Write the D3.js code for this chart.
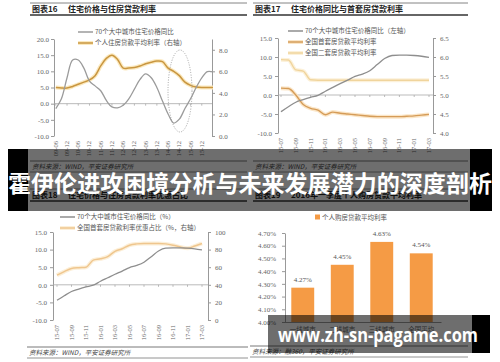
<!DOCTYPE html>
<html lang="zh">
<head>
<meta charset="UTF-8">
<title>住宅价格与住房贷款利率</title>
<script src="https://d3js.org/d3.v7.min.js"></script>
<style>
  body { margin: 0; background: #fff; }
  svg { display: block; }
</style>
</head>
<body>
<script>
// ---- data ----
// chart 16: half-step points between the x labels
const c16Labels = ["09-06","09-12","10-06","10-12","11-06","11-12","12-06","12-12","13-06","13-12","14-06","14-12","15-06","15-12"];
const c16Price = [-1.5, 1.5, 8, 13.5, 13.5, 11, 7, 5.5, 4, 1, -1, -1.3, -0.5, 1.5, 4.5, 7.5, 9.2, 8, 5, 0.8, -3.2, -6, -4.8, -1.5, 1.5, 5, 8, 9.9, 9.8];
const c16Rate = [4.5, 4.45, 4.45, 4.6, 4.8, 5.0, 5.2, 5.6, 6.5, 7.2, 7.5, 7.1, 6.3, 6.3, 6.35, 6.5, 6.7, 6.85, 6.95, 6.9, 6.3, 6.0, 5.6, 5.0, 4.7, 4.55, 4.5, 4.5, 4.5];

// charts 17 / 18: monthly 15-07 .. 17-03
const months = ["15-07","15-08","15-09","15-10","15-11","15-12","16-01","16-02","16-03","16-04","16-05","16-06","16-07","16-08","16-09","16-10","16-11","16-12","17-01","17-02","17-03"];
const priceYoY = [-4.4, -3.1, -1.9, -1.2, -0.6, -0.1, 1.0, 2.0, 3.0, 3.9, 4.9, 5.5, 6.4, 8.0, 9.6, 10.4, 10.5, 10.5, 10.4, 10.2, 9.9];
const firstRate = [5.18, 5.17, 5.0, 4.75, 4.65, 4.6, 4.48, 4.55, 4.52, 4.5, 4.48, 4.46, 4.44, 4.43, 4.43, 4.43, 4.43, 4.44, 4.45, 4.47, 4.49];
const secondRate = [5.93, 5.92, 5.66, 5.63, 5.4, 5.39, 5.39, 5.39, 5.39, 5.39, 5.39, 5.39, 5.39, 5.39, 5.39, 5.39, 5.39, 5.39, 5.39, 5.39, 5.39];
const discountShare = [51, 55, 58.5, 59.5, 60, 68, 69.5, 72, 78, 81, 85, 86.5, 87, 87, 87, 86.5, 85, 83, 81.5, 84, 87];

// chart 19
const cities = ["一线城市","二线城市","三线城市","全国平均"];
const cityRates = [4.27, 4.45, 4.63, 4.54];

const CJK = "'Noto Sans CJK SC', sans-serif";
const NUM = "'Liberation Serif', serif";
const GRAY = "#9b9b9b";

const svg = d3.select("body").append("svg")
    .attr("width", 500)
    .attr("height", 362);

function styleAxis(g) {
    g.attr("font-family", NUM).attr("font-size", 7);
    g.selectAll("path, line").attr("stroke", "#999");
    g.selectAll("text").attr("fill", "#666");
}

function header(x0, x1, y, num, title) {
    svg.append("line").attr("x1", x0).attr("x2", x1).attr("y1", y - 8).attr("y2", y - 8)
        .attr("stroke", "#666").attr("stroke-width", 0.8);
    svg.append("line").attr("x1", x0).attr("x2", x1).attr("y1", y + 4).attr("y2", y + 4)
        .attr("stroke", "#333").attr("stroke-width", 1.4);
    svg.append("text").attr("x", x0 + 2).attr("y", y + 1).text(num)
        .attr("font-family", CJK).attr("font-weight", 700).attr("font-size", 8).attr("fill", "#222");
    svg.append("text").attr("x", x0 + 38).attr("y", y + 1).text(title)
        .attr("font-family", CJK).attr("font-weight", 700).attr("font-size", 8).attr("fill", "#222");
}

function footer(x0, x1, y, text) {
    svg.append("line").attr("x1", x0).attr("x2", x1).attr("y1", y - 7).attr("y2", y - 7)
        .attr("stroke", "#555").attr("stroke-width", 0.8);
    svg.append("line").attr("x1", x0).attr("x2", x1).attr("y1", y + 4).attr("y2", y + 4)
        .attr("stroke", "#777").attr("stroke-width", 0.8);
    svg.append("text").attr("x", x0 + 2).attr("y", y + 1).text(text)
        .attr("font-family", CJK).attr("font-style", "italic").attr("font-size", 6.5).attr("fill", "#444");
}

function legendLine(x, y, color, text, halo) {
    if (halo) {
        svg.append("line").attr("x1", x).attr("x2", x + 15).attr("y1", y).attr("y2", y)
            .attr("stroke", halo).attr("stroke-width", 4);
    }
    svg.append("line").attr("x1", x).attr("x2", x + 15).attr("y1", y).attr("y2", y)
        .attr("stroke", color).attr("stroke-width", 1.5);
    svg.append("text").attr("x", x + 17).attr("y", y + 2.3).text(text)
        .attr("font-family", CJK).attr("font-size", 6.5).attr("fill", "#555");
}

function drawLine(data, x, y, color, width, curve, halo) {
    const line = d3.line().x((d, i) => x(i)).y(d => y(d)).curve(curve);
    if (halo) {
        svg.append("path").datum(data).attr("d", line).attr("fill", "none")
            .attr("stroke", halo).attr("stroke-width", 4).attr("stroke-linejoin", "round");
    }
    svg.append("path").datum(data).attr("d", line).attr("fill", "none")
        .attr("stroke", color).attr("stroke-width", width).attr("stroke-linejoin", "round");
}

function xLabels(labels, x, y, step) {
    labels.forEach((lab, i) => {
        svg.append("text")
            .attr("transform", `translate(${x(i * step) + 2},${y}) rotate(-90)`)
            .attr("text-anchor", "end")
            .attr("font-family", NUM).attr("font-size", 6.5).attr("fill", "#666")
            .text(lab);
    });
}

function zeroLine(x0, x1, y0, x, positions) {
    svg.append("line").attr("x1", x0).attr("x2", x1).attr("y1", y0).attr("y2", y0)
        .attr("stroke", "#aaa").attr("stroke-width", 0.8);
    positions.forEach(p => {
        svg.append("line").attr("x1", x(p)).attr("x2", x(p)).attr("y1", y0).attr("y2", y0 + 2)
            .attr("stroke", "#aaa").attr("stroke-width", 0.8);
    });
}

const fmt1 = d => d.toFixed(1);

// ================= chart 16 =================
(function () {
    header(30, 247, 11, "图表16", "住宅价格与住房贷款利率");
    const x = d3.scaleLinear().domain([-0.5, 28]).range([53, 213]);
    const yL = d3.scaleLinear().domain([-10, 20]).range([136, 39]);
    const yR = d3.scaleLinear().domain([0, 9]).range([136, 39]);

    svg.append("g").attr("transform", "translate(54,0)")
        .call(d3.axisLeft(yL).tickValues([-10, -5, 0, 5, 10, 15, 20]).tickFormat(fmt1).tickSize(3).tickSizeOuter(0).tickPadding(2))
        .call(styleAxis);
    svg.append("g").attr("transform", "translate(212,0)")
        .call(d3.axisRight(yR).tickValues([0, 2, 4, 6, 8]).tickFormat(fmt1).tickSize(3).tickSizeOuter(0).tickPadding(4))
        .call(styleAxis);

    zeroLine(54, 212, yL(0), x, d3.range(0, 28, 2));
    xLabels(c16Labels, x, 141, 2);

    drawLine(c16Rate, x, yR, "#c99640", 1.5, d3.curveCatmullRom, "#fbe9bf");
    drawLine(c16Price, x, yL, GRAY, 1.3, d3.curveCatmullRom);

    // dotted highlight
    svg.append("ellipse").attr("cx", 180).attr("cy", 91).attr("rx", 12).attr("ry", 41)
        .attr("fill", "none").attr("stroke", "#999").attr("stroke-width", 0.9)
        .attr("stroke-dasharray", "1,1.5");

    legendLine(78, 32, GRAY, "70个大中城市住宅价格同比");
    legendLine(78, 43, "#c99640", "个人住房贷款平均利率（右轴）", "#fbe9bf");
    footer(30, 247, 168, "资料来源：WIND，平安证券研究所");
})();

// ================= chart 17 =================
(function () {
    header(253, 468, 11, "图表17", "住宅价格同比与首套房贷款利率");
    const x = d3.scaleLinear().domain([0, 20]).range([281, 429]);
    const yL = d3.scaleLinear().domain([-10, 15]).range([133, 38]);
    const yR = d3.scaleLinear().domain([4, 6.5]).range([133, 38]);

    svg.append("g").attr("transform", "translate(278,0)")
        .call(d3.axisLeft(yL).tickValues([-10, -5, 0, 5, 10, 15]).tickFormat(fmt1).tickSize(3).tickSizeOuter(0).tickPadding(3))
        .call(styleAxis);
    svg.append("g").attr("transform", "translate(433,0)")
        .call(d3.axisRight(yR).tickValues([4, 4.5, 5, 5.5, 6, 6.5]).tickFormat(fmt1).tickSize(3).tickSizeOuter(0).tickPadding(4))
        .call(styleAxis);

    zeroLine(278, 433, yL(0), x, d3.range(0, 21, 2));
    xLabels(months.filter((m, i) => i % 2 === 0), x, 138, 2);

    drawLine(secondRate, x, yR, "#f0d49c", 1.4, d3.curveMonotoneX, "#fcf1da");
    drawLine(firstRate, x, yR, "#d59c58", 1.4, d3.curveMonotoneX, "#fbe6c8");
    drawLine(priceYoY, x, yL, "#8e8e8e", 1.3, d3.curveMonotoneX);

    legendLine(288, 31, "#8e8e8e", "70个大中城市住宅价格同比（左轴）");
    legendLine(288, 42, "#d59c58", "全国首套房贷款平均利率", "#fbe6c8");
    legendLine(288, 53, "#f0d49c", "全国二套房贷款平均利率", "#fcf1da");
    footer(253, 468, 168, "资料来源：WIND，平安证券研究所");
})();

// ================= chart 18 =================
(function () {
    header(30, 247, 197, "图表18", "住宅价格与住房贷款利率优惠占比");
    const x = d3.scaleLinear().domain([0, 20]).range([57, 202]);
    const yL = d3.scaleLinear().domain([-10, 15]).range([320, 232]);
    const yR = d3.scaleLinear().domain([0, 100]).range([320, 232]);

    svg.append("g").attr("transform", "translate(53,0)")
        .call(d3.axisLeft(yL).tickValues([-10, -5, 0, 5, 10, 15]).tickFormat(fmt1).tickSize(3).tickSizeOuter(0).tickPadding(3))
        .call(styleAxis);
    svg.append("g").attr("transform", "translate(208,0)")
        .call(d3.axisRight(yR).tickValues([0, 20, 40, 60, 80, 100]).tickSize(3).tickSizeOuter(0).tickPadding(4))
        .call(styleAxis);

    zeroLine(53, 208, yL(0), x, d3.range(0, 21, 2));
    xLabels(months.filter((m, i) => i % 2 === 0), x, 325, 2);

    drawLine(discountShare, x, yR, "#efc68e", 1.5, d3.curveMonotoneX, "#fcefd8");
    drawLine(priceYoY, x, yL, "#8e8e8e", 1.3, d3.curveMonotoneX);

    legendLine(60, 217, "#8e8e8e", "70个大中城市住宅价格同比（%）");
    legendLine(60, 228, "#efc68e", "全国首套房贷款利率优惠占比（%，右轴）", "#fcefd8");
    footer(27, 248, 354, "资料来源：WIND，平安证券研究所");
})();

// ================= chart 19 =================
(function () {
    header(253, 468, 197, "图表19", "2016年一季度个人购房贷款平均利率");
    const x = d3.scaleBand().domain(cities).range([283, 441]).paddingInner(0.42).paddingOuter(0.21);
    const y = d3.scaleLinear().domain([4.0, 4.7]).range([322, 233]);

    svg.append("g").attr("transform", "translate(285,0)")
        .call(d3.axisLeft(y).tickValues(d3.range(0, 8).map(i => 4 + i * 0.1)).tickFormat(d => d.toFixed(2) + "%").tickSize(3).tickSizeOuter(0).tickPadding(6))
        .call(styleAxis);
    svg.append("g").attr("transform", "translate(0,322)")
        .call(d3.axisBottom(x).tickSize(0).tickPadding(5))
        .call(styleAxis)
        .attr("font-family", CJK).attr("font-size", 6.5);

    svg.selectAll(".bar19").data(cityRates).enter().append("rect")
        .attr("class", "bar19")
        .attr("x", (d, i) => x(cities[i]))
        .attr("width", x.bandwidth())
        .attr("y", d => y(d))
        .attr("height", d => y(4.0) - y(d))
        .attr("fill", "#f59b45");
    svg.selectAll(".val19").data(cityRates).enter().append("text")
        .attr("class", "val19")
        .attr("x", (d, i) => x(cities[i]) + x.bandwidth() / 2)
        .attr("y", d => y(d) - 6)
        .attr("text-anchor", "middle")
        .attr("font-family", NUM).attr("font-size", 7).attr("fill", "#555")
        .text(d => d.toFixed(2) + "%");

    svg.append("rect").attr("x", 315).attr("y", 214.5).attr("width", 5).attr("height", 5).attr("fill", "#f59b45");
    svg.append("text").attr("x", 322).attr("y", 219.5).text("个人购房贷款平均利率")
        .attr("font-family", CJK).attr("font-size", 6.5).attr("fill", "#555");
    footer(250, 468, 353, "资料来源：融360，平安证券研究所");
})();

// ================= overlays =================
svg.append("rect").attr("x", 28).attr("y", 149).attr("width", 442).attr("height", 62).attr("fill", "rgba(0,0,0,0.57)");
svg.append("rect").attr("x", 8).attr("y", 149).attr("width", 20).attr("height", 62).attr("fill", "#000");
svg.append("rect").attr("x", 470).attr("y", 149).attr("width", 22).attr("height", 62).attr("fill", "#000");
svg.append("text").attr("x", 250).attr("y", 192).attr("text-anchor", "middle")
    .attr("font-family", CJK).attr("font-weight", 700).attr("font-size", 23)
    .attr("textLength", 484).attr("lengthAdjust", "spacingAndGlyphs")
    .attr("fill", "#fff").text("霍伊伦进攻困境分析与未来发展潜力的深度剖析");

svg.append("rect").attr("x", 268).attr("y", 315).attr("width", 204).attr("height", 38).attr("fill", "rgba(0,0,0,0.57)");
svg.append("rect").attr("x", 472).attr("y", 315).attr("width", 18).attr("height", 38).attr("fill", "#000");
svg.append("text").attr("x", 278).attr("y", 342)
    .attr("font-family", "'Open Sans', 'DejaVu Sans', sans-serif").attr("font-weight", 700).attr("font-size", 19)
    .attr("textLength", 200).attr("lengthAdjust", "spacingAndGlyphs")
    .attr("fill", "#fff").text("www.zh-sn-pagame.com");
</script>
</body>
</html>
